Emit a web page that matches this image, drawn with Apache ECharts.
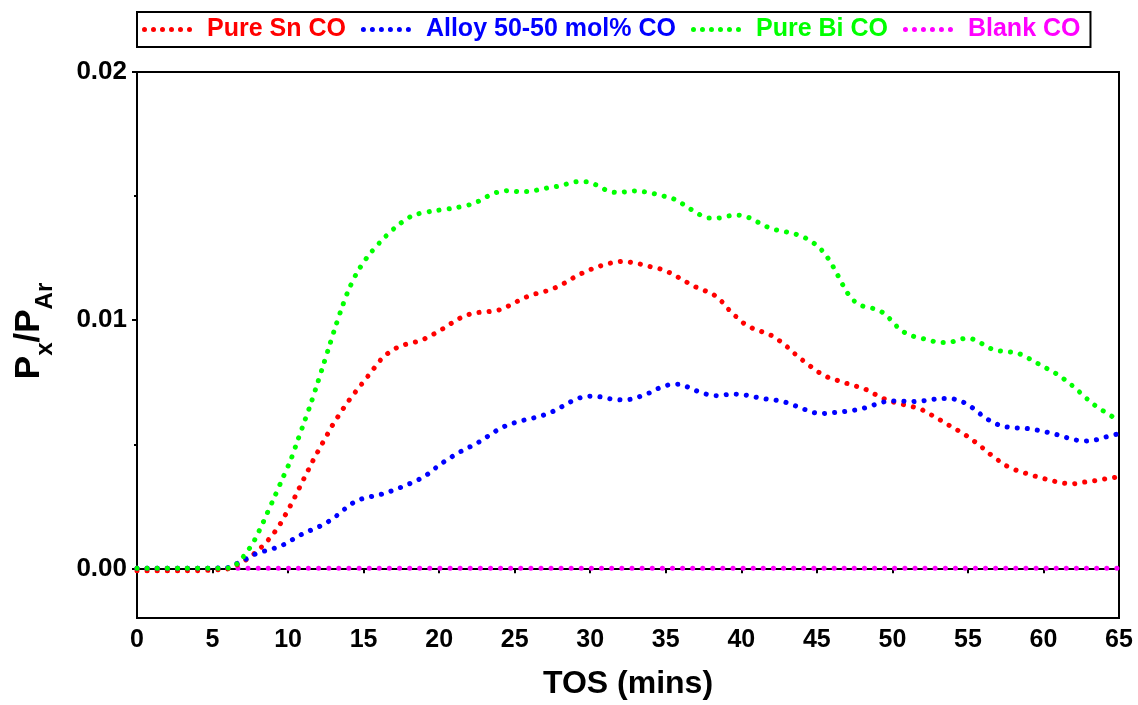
<!DOCTYPE html>
<html>
<head>
<meta charset="utf-8">
<script src="https://cdn.jsdelivr.net/npm/echarts@6/dist/echarts.min.js"></script>
<style>
  html, body { margin: 0; padding: 0; background: #fff; }
  #chart { width: 1138px; height: 705px; }
</style>
</head>
<body>
<div id="chart"></div>
<script>
// CO signal (P_x / P_Ar) versus time on stream, [minutes, ratio]
const pureSnCO = [[0,-0.0001],[3,-0.0001],[5.9,-0.00003],[6.5,0.0001],[7.1,0.0003],[7.6,0.00052],[8.14,0.0008],[8.58,0.00107],[9.02,0.00139],[9.42,0.00173],[9.75,0.00208],[10.08,0.00244],[10.39,0.0028],[10.68,0.00316],[10.97,0.00352],[11.27,0.00388],[11.56,0.00424],[11.87,0.00459],[12.18,0.00494],[12.51,0.00529],[12.82,0.00565],[13.15,0.00597],[13.5,0.0063],[13.88,0.00664],[14.25,0.00695],[14.67,0.00727],[15.07,0.00758],[15.49,0.0079],[15.86,0.0082],[16.28,0.0085],[16.85,0.00877],[17.45,0.00896],[18.11,0.00908],[18.73,0.00917],[19.3,0.00933],[19.87,0.00952],[20.43,0.00972],[21,0.00995],[21.61,0.01015],[22.25,0.01028],[22.91,0.01033],[23.55,0.01036],[24.17,0.01045],[24.77,0.01063],[25.37,0.01082],[25.96,0.01098],[26.6,0.0111],[27.24,0.0112],[27.84,0.01135],[28.43,0.01154],[29,0.01175],[29.6,0.01193],[30.22,0.01209],[30.85,0.01222],[31.5,0.01232],[32.14,0.01237],[32.8,0.01232],[33.44,0.01224],[34.08,0.01214],[34.72,0.01205],[35.31,0.0119],[35.91,0.0117],[36.48,0.0115],[37.08,0.01131],[37.7,0.01116],[38.23,0.011],[38.71,0.01075],[39.15,0.01044],[39.62,0.01016],[40.15,0.00988],[40.76,0.00967],[41.38,0.00953],[41.97,0.00939],[42.53,0.00917],[43.03,0.00893],[43.5,0.00867],[44.01,0.00841],[44.56,0.00815],[45.11,0.00791],[45.7,0.00771],[46.32,0.00758],[46.94,0.00746],[47.55,0.00735],[48.17,0.00723],[48.77,0.00704],[49.39,0.00685],[50.03,0.00671],[50.65,0.00661],[51.31,0.00652],[51.93,0.0064],[52.5,0.00621],[53.07,0.00601],[53.65,0.0058],[54.22,0.0056],[54.75,0.00541],[55.28,0.00518],[55.81,0.00494],[56.32,0.00467],[56.87,0.00442],[57.4,0.00418],[58.17,0.00396],[58.78,0.00384],[59.42,0.00372],[60.07,0.00361],[60.7,0.00351],[61.35,0.00343],[62.01,0.00341],[62.65,0.00347],[63.28,0.00352],[63.94,0.00359],[64.6,0.00365],[65,0.00369]];

const alloyCO = [[0,0],[3,0],[5.93,0.00002],[6.48,0.00016],[7.08,0.00033],[7.65,0.00053],[8.29,0.00067],[8.93,0.00078],[9.55,0.00091],[10.13,0.0011],[10.68,0.0013],[11.25,0.00147],[11.87,0.00163],[12.44,0.0018],[12.97,0.00201],[13.48,0.00225],[14,0.00252],[14.6,0.00274],[15.24,0.00286],[15.88,0.00294],[16.52,0.00305],[17.14,0.00319],[17.74,0.00333],[18.33,0.00349],[18.93,0.00367],[19.43,0.00388],[19.96,0.00414],[20.51,0.00437],[21.09,0.00459],[21.65,0.00478],[22.21,0.00495],[22.8,0.00515],[23.36,0.00538],[23.93,0.0056],[24.55,0.00578],[25.17,0.0059],[25.81,0.006],[26.45,0.00609],[27.06,0.00621],[27.66,0.00636],[28.23,0.00655],[28.83,0.00675],[29.47,0.0069],[30.11,0.00694],[30.77,0.0069],[31.41,0.00682],[32.07,0.00679],[32.74,0.00682],[33.35,0.00694],[33.95,0.00708],[34.54,0.00726],[35.18,0.00739],[35.85,0.00742],[36.44,0.00731],[37.04,0.00715],[37.68,0.00702],[38.34,0.00696],[39,0.007],[39.64,0.00702],[40.3,0.00698],[40.94,0.0069],[41.58,0.00683],[42.24,0.00678],[42.88,0.0067],[43.5,0.00657],[44.09,0.00643],[44.71,0.00629],[45.37,0.00624],[46.03,0.00627],[46.67,0.00631],[47.33,0.00636],[47.97,0.00643],[48.59,0.00655],[49.21,0.00667],[49.87,0.00675],[50.54,0.00674],[51.2,0.00672],[51.86,0.00674],[52.52,0.00679],[53.16,0.00684],[53.82,0.00684],[54.44,0.00676],[55.01,0.00659],[55.54,0.00636],[56.07,0.0061],[56.67,0.00588],[57.29,0.00573],[58.19,0.00566],[58.83,0.00564],[59.49,0.00558],[60.14,0.0055],[60.77,0.00541],[61.37,0.0053],[62.01,0.00519],[62.65,0.00513],[63.28,0.00515],[63.92,0.00526],[64.59,0.00537],[65,0.00542]];

const pureBiCO = [[0,0],[3,0],[6.2,0.00002],[6.93,0.0004],[7.36,0.00073],[7.72,0.00107],[8.02,0.00143],[8.31,0.0018],[8.58,0.00217],[9.11,0.00289],[9.64,0.00363],[10.17,0.00436],[10.61,0.00511],[11.05,0.00586],[11.5,0.00663],[11.91,0.00739],[12.31,0.00815],[12.71,0.00892],[13.1,0.00967],[13.52,0.01043],[13.98,0.01118],[14.54,0.01189],[15.24,0.01254],[16.1,0.01315],[17.07,0.01372],[18.2,0.0142],[19.5,0.01439],[20.8,0.0145],[22.08,0.01466],[22.7,0.01482],[23.3,0.01502],[23.93,0.01517],[24.57,0.01522],[25.23,0.01518],[25.88,0.01518],[26.54,0.01525],[27.18,0.01533],[27.82,0.01539],[28.48,0.01549],[29.12,0.01558],[29.78,0.01558],[30.4,0.01545],[30.99,0.01526],[31.63,0.01515],[32.29,0.01517],[32.96,0.01521],[33.6,0.01517],[34.26,0.01509],[34.92,0.01499],[35.51,0.01489],[36.07,0.0147],[36.6,0.01449],[37.19,0.01427],[37.83,0.01412],[38.49,0.01412],[39.15,0.0142],[39.82,0.01423],[40.43,0.01415],[41,0.01398],[41.6,0.01379],[42.22,0.01365],[42.88,0.01357],[43.52,0.01348],[44.12,0.01335],[44.64,0.01317],[45.13,0.01294],[45.57,0.01264],[45.95,0.01229],[46.28,0.01193],[46.59,0.01157],[46.9,0.01122],[47.25,0.01091],[47.8,0.01062],[48.46,0.01051],[49.08,0.01041],[49.59,0.0102],[50.03,0.00992],[50.51,0.00963],[51.13,0.0094],[51.79,0.00929],[52.43,0.0092],[53.09,0.0091],[53.74,0.0091],[54.35,0.00921],[55.01,0.00928],[55.57,0.00918],[56.14,0.00898],[56.73,0.0088],[57.38,0.00874],[58.19,0.00869],[58.78,0.00854],[59.38,0.00834],[59.95,0.00814],[60.55,0.00795],[61.1,0.00774],[61.63,0.0075],[62.14,0.00724],[62.65,0.00696],[63.15,0.00669],[63.68,0.00645],[64.21,0.00625],[64.74,0.00605],[65,0.00598]];

const blankCO = [[0,0],[65,0]];

const seriesNames = ['Pure Sn CO', 'Alloy 50-50 mol% CO', 'Pure Bi CO', 'Blank CO'];
const seriesColors = ['#ff0000', '#0000ff', '#00ff00', '#ff00ff'];
const seriesData = [pureSnCO, alloyCO, pureBiCO, blankCO];

const yMajorTicks = [0, 0.01, 0.02];
const yMinorTicks = [0.005, 0.015];

const FONT = '"Liberation Sans", Arial, sans-serif';

// legend key: a row of six round dots
const dotRow = 'path://' + [0, 1, 2, 3, 4, 5].map(k => {
  const x = k * 9;
  return 'M' + x + ',2.5a2.5,2.5 0 1,0 5,0a2.5,2.5 0 1,0 -5,0Z';
}).join(' ');

const chart = echarts.init(document.getElementById('chart'), null, { renderer: 'canvas' });

const dotted = (color) => ({ color: color, width: 5, type: [0.1, 10], cap: 'round' });

chart.setOption({
  animation: false,
  backgroundColor: '#fff',
  grid: { left: 137, right: 19, top: 72, bottom: 85, show: true, borderColor: '#000', borderWidth: 2, backgroundColor: 'transparent' },
  legend: {
    left: 137, top: 12,
    padding: [5, 10, 5, 5],
    borderColor: '#000', borderWidth: 2,
    icon: dotRow,
    itemWidth: 50, itemHeight: 5, itemGap: 15,
    textStyle: { fontFamily: FONT, fontWeight: 'bold', fontSize: 25, padding: [0, 0, 0, 10] },
    data: seriesNames.map((n, i) => ({ name: n, textStyle: { color: seriesColors[i] } }))
  },
  xAxis: {
    type: 'value', min: 0, max: 65, interval: 5,
    name: 'TOS (mins)', nameLocation: 'middle', nameGap: 50,
    nameTextStyle: { fontFamily: FONT, fontWeight: 'bold', fontSize: 32, color: '#000' },
    axisLine: { lineStyle: { color: '#000', width: 2 } },
    axisTick: { length: 5, lineStyle: { color: '#000', width: 2 } },
    axisLabel: { fontFamily: FONT, fontWeight: 'bold', fontSize: 25, color: '#000', margin: 10 },
    splitLine: { show: false }
  },
  yAxis: [{
    type: 'value', min: -0.002, max: 0.02,
    name: '{a|P}{b|x}{a|/P}{b|Ar}', nameLocation: 'middle', nameGap: 80, nameRotate: 90,
    nameTextStyle: {
      padding: [0, 0, 0, 28],
      rich: {
        a: { fontFamily: FONT, fontWeight: 'bold', fontSize: 35, lineHeight: 45, verticalAlign: 'top', color: '#000' },
        b: { fontFamily: FONT, fontWeight: 'bold', fontSize: 24, lineHeight: 24, verticalAlign: 'bottom', color: '#000' }
      }
    },
    axisLine: { show: true, lineStyle: { color: '#000', width: 2 } },
    axisTick: { show: true, length: 5, customValues: yMajorTicks, lineStyle: { color: '#000', width: 2 } },
    axisLabel: { customValues: yMajorTicks, fontFamily: FONT, fontWeight: 'bold', fontSize: 26, color: '#000', margin: 10,
      formatter: (v) => v.toFixed(2) },
    splitLine: { show: false }
  }, {
    type: 'value', min: -0.002, max: 0.02, position: 'left',
    axisLine: { show: false },
    axisTick: { show: true, length: 3, customValues: yMinorTicks, lineStyle: { color: '#000', width: 2 } },
    axisLabel: { show: false },
    splitLine: { show: false }
  }],
  series: seriesNames.map((n, i) => ({
    name: n, type: 'line', data: seriesData[i],
    showSymbol: false, symbol: 'none', smooth: 0.3,
    z: i === 3 ? 1 : 2,
    color: seriesColors[i],
    lineStyle: dotted(seriesColors[i])
  }))
});
</script>
</body>
</html>
